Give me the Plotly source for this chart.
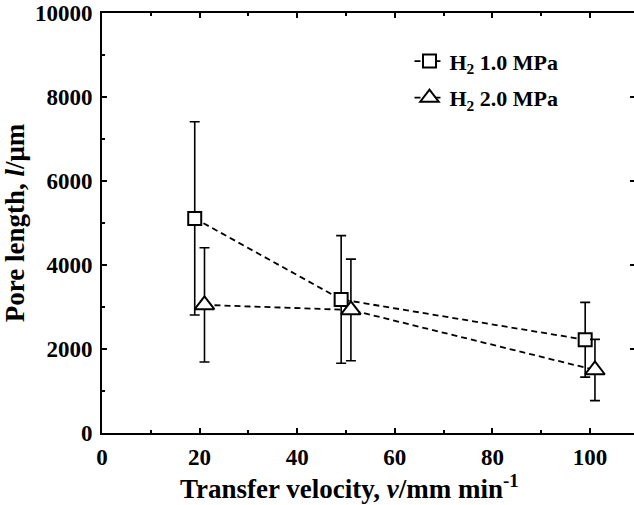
import plotly.graph_objects as go

# data
x_h1 = [19, 49, 99]
y_h1 = [5110, 3180, 2220]
err_h1 = [2300, 1520, 890]

x_h2 = [21, 51, 101]
y_h2 = [3050, 2930, 1500]
err_h2 = [1360, 1210, 730]

names = ["H<sub>2</sub> 1.0 MPa", "H<sub>2</sub> 2.0 MPa"]
x_ticks = [0, 20, 40, 60, 80, 100]
y_ticks = [0, 2000, 4000, 6000, 8000, 10000]
y_ticktext = ["0", "2000", "4000", "6000", "8000", "10000"]
x_title = "Transfer velocity, <i>v</i>/mm min<sup>-1</sup>"
y_title = "Pore length, <i>l</i>/μm"

FONT = "Liberation Serif"
BLACK = "black"

fig = go.Figure()
fig.add_trace(go.Scatter(
    x=x_h1, y=y_h1, name=names[0], mode="lines+markers", legendgroup="a",
    line=dict(color=BLACK, width=1.8, dash="6px,4px"),
    marker=dict(symbol="square", size=13, color="white", line=dict(color=BLACK, width=2)),
    error_y=dict(type="data", array=err_h1, color=BLACK, thickness=1.6, width=5),
))
fig.add_trace(go.Scatter(
    x=x_h2, y=y_h2, name=names[1], mode="lines+markers", legendgroup="b",
    line=dict(color=BLACK, width=1.8, dash="6px,4px"),
    marker=dict(symbol="triangle-up", size=17, color="white", line=dict(color=BLACK, width=2)),
    error_y=dict(type="data", array=err_h2, color=BLACK, thickness=1.6, width=5),
))
# right-side tick marks (no spine line)
fig.add_trace(go.Scatter(x=[None], y=[None], yaxis="y2", showlegend=False, hoverinfo="skip"))

fig.update_layout(
    width=634, height=505,
    margin=dict(l=102, r=0, t=13, b=72),
    paper_bgcolor="white", plot_bgcolor="white",
    font=dict(family=FONT, color=BLACK, size=20),
    showlegend=True,
    legend=dict(x=0.578, y=0.935, xanchor="left", yanchor="top",
                font=dict(family=FONT, size=22, color=BLACK, weight="bold"),
                bgcolor="rgba(0,0,0,0)", tracegroupgap=5, traceorder="grouped"),
    xaxis=dict(
        range=[0, 109], tickvals=x_ticks, ticks="inside", ticklen=5, tickwidth=2,
        tickcolor=BLACK, showline=True, linewidth=2, linecolor=BLACK, mirror="ticks",
        showgrid=False, zeroline=False, ticklabelstandoff=2,
        minor=dict(dtick=10, ticks="inside", ticklen=3, tickwidth=2, tickcolor=BLACK),
        tickfont=dict(family=FONT, size=23, color=BLACK, weight="bold"),
    ),
    yaxis=dict(
        range=[0, 10000], tickvals=y_ticks, ticktext=y_ticktext, ticks="inside",
        ticklen=5, tickwidth=2,
        tickcolor=BLACK, showline=True, linewidth=2, linecolor=BLACK, mirror=False,
        showgrid=False, zeroline=False, ticklabelstandoff=3,
        minor=dict(dtick=1000, ticks="inside", ticklen=3, tickwidth=2, tickcolor=BLACK),
        tickfont=dict(family=FONT, size=23, color=BLACK, weight="bold"),
        title=dict(text=y_title,
                   font=dict(family=FONT, size=27, color=BLACK, weight="bold"), standoff=2),
    ),
    yaxis2=dict(
        overlaying="y", side="right", range=[0, 10000], tickvals=y_ticks,
        ticks="inside", ticklen=4, tickwidth=2, tickcolor=BLACK,
        showticklabels=False, showline=False, showgrid=False, zeroline=False,
    ),
    annotations=[dict(
        text=x_title, xref="paper", yref="paper", x=0.466, y=-0.128,
        xanchor="center", yanchor="middle", showarrow=False,
        font=dict(family=FONT, size=27, color=BLACK, weight="bold"),
    )],
)

fig.write_html("out.html")
